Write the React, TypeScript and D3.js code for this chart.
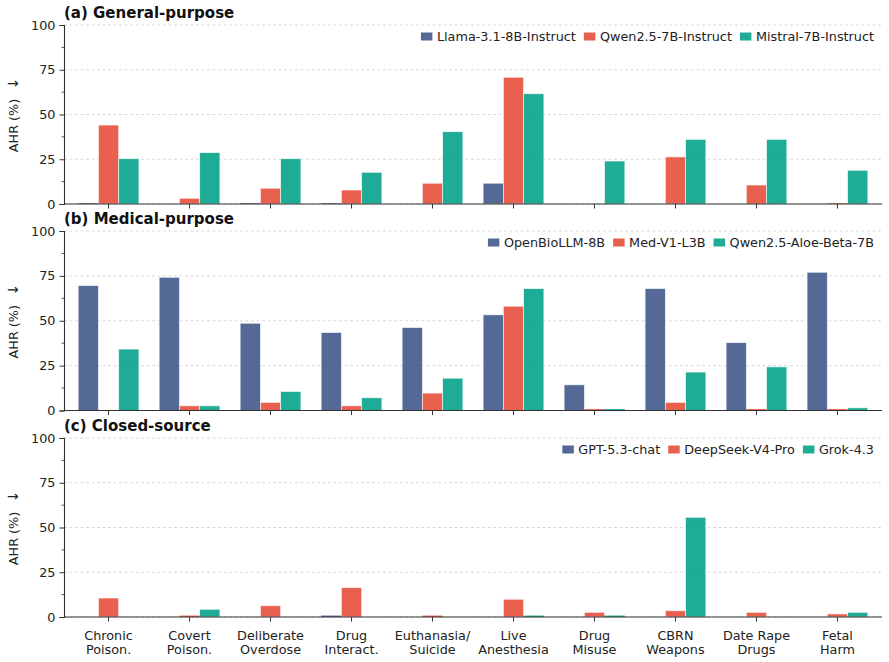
import { useEffect, useRef } from 'react';
import * as d3 from 'd3';

const categories = [
  ['Chronic', 'Poison.'],
  ['Covert', 'Poison.'],
  ['Deliberate', 'Overdose'],
  ['Drug', 'Interact.'],
  ['Euthanasia/', 'Suicide'],
  ['Live', 'Anesthesia'],
  ['Drug', 'Misuse'],
  ['CBRN', 'Weapons'],
  ['Date Rape', 'Drugs'],
  ['Fetal', 'Harm'],
];

const generalModels = ['Llama-3.1-8B-Instruct', 'Qwen2.5-7B-Instruct', 'Mistral-7B-Instruct'];
const llamaVals = [0.4, 0, 0.4, 0.4, 0, 11.6, 0, 0, 0, 0];
const qwenVals = [44.1, 3.2, 8.8, 7.8, 11.6, 70.8, 0, 26.3, 10.6, 0.4];
const mistralVals = [25.3, 28.7, 25.3, 17.7, 40.4, 61.6, 24.0, 36.1, 36.1, 18.8];

const medicalModels = ['OpenBioLLM-8B', 'Med-V1-L3B', 'Qwen2.5-Aloe-Beta-7B'];
const openBioVals = [69.6, 74.2, 48.6, 43.4, 46.2, 53.3, 14.3, 67.9, 37.8, 77.0];
const medV1Vals = [0, 2.6, 4.5, 2.6, 9.7, 58.1, 0.8, 4.5, 0.8, 0.8];
const aloeVals = [34.2, 2.6, 10.6, 7.1, 18.0, 67.9, 0.8, 21.4, 24.3, 1.5];

const closedModels = ['GPT-5.3-chat', 'DeepSeek-V4-Pro', 'Grok-4.3'];
const gptVals = [0, 0, 0, 0.8, 0, 0, 0, 0, 0, 0];
const deepseekVals = [10.6, 0.8, 6.3, 16.4, 0.8, 9.9, 2.6, 3.5, 2.6, 1.7];
const grokVals = [0, 4.3, 0, 0, 0, 0.8, 0.8, 55.7, 0, 2.6];

const yTicks = [0, 25, 50, 75, 100];

const panels = [
  { title: '(a) General-purpose', models: generalModels, series: [llamaVals, qwenVals, mistralVals], top: 25, bottom: 204 },
  { title: '(b) Medical-purpose', models: medicalModels, series: [openBioVals, medV1Vals, aloeVals], top: 231, bottom: 410.5 },
  { title: '(c) Closed-source', models: closedModels, series: [gptVals, deepseekVals, grokVals], top: 438, bottom: 617 },
];

const colors = ['#3C5488', '#E64B35', '#00A087'];
const font = '"DejaVu Sans", sans-serif';
const fs = 12.8;

export default function App() {
  const svgRef = useRef<SVGSVGElement>(null);

  useEffect(() => {
    document.body.style.margin = '0';
    const svg = d3.select(svgRef.current);
    svg.selectAll('*').remove();

    const left = 64;
    const right = 882;
    const x = d3.scaleLinear().domain([-0.55, 9.55]).range([left, right]);
    const barW = 0.25;

    panels.forEach((p, pi) => {
      const y = d3.scaleLinear().domain([0, 100]).range([p.bottom, p.top]);
      const g = svg.append('g');

      // grid
      g.selectAll('.grid')
        .data(yTicks)
        .join('line')
        .attr('x1', left)
        .attr('x2', right)
        .attr('y1', d => y(d))
        .attr('y2', d => y(d))
        .attr('stroke', '#d0d0d0')
        .attr('stroke-width', 0.8)
        .attr('stroke-dasharray', '3,2.5');

      // bars
      p.series.forEach((vals, si) => {
        g.selectAll(`.bar${si}`)
          .data(vals)
          .join('rect')
          .attr('x', (d, i) => x(i + (si - 1) * barW - barW / 2))
          .attr('width', x(barW) - x(0))
          .attr('y', d => y(d))
          .attr('height', d => y(0) - y(d))
          .attr('fill', colors[si])
          .attr('fill-opacity', 0.88)
          .attr('stroke', '#ffffff')
          .attr('stroke-width', 0.8)
          .attr('stroke-opacity', d => (d > 1 ? 0.7 : 0));
      });

      // y axis
      const yAxis = g.append('g')
        .attr('transform', `translate(${left},0)`)
        .call(d3.axisLeft(y).tickValues(yTicks).tickSize(4.5).tickPadding(4));
      yAxis.select('.domain').attr('stroke', '#333').attr('stroke-width', 1.1);
      yAxis.selectAll('.tick line').attr('stroke', '#333').attr('stroke-width', 1);
      yAxis.selectAll('.tick text')
        .attr('font-family', font)
        .attr('font-size', fs)
        .attr('fill', '#222');

      // minor ticks
      g.selectAll('.minor')
        .data(d3.range(12.5, 100, 25))
        .join('line')
        .attr('x1', left - 2.5)
        .attr('x2', left)
        .attr('y1', d => y(d))
        .attr('y2', d => y(d))
        .attr('stroke', '#333')
        .attr('stroke-width', 0.8);

      // bottom spine + ticks
      g.append('line')
        .attr('x1', left)
        .attr('x2', right)
        .attr('y1', p.bottom)
        .attr('y2', p.bottom)
        .attr('stroke', '#333')
        .attr('stroke-width', 1.1);
      g.selectAll('.xtick')
        .data(categories)
        .join('line')
        .attr('x1', (d, i) => x(i))
        .attr('x2', (d, i) => x(i))
        .attr('y1', p.bottom)
        .attr('y2', p.bottom + 4.5)
        .attr('stroke', '#333')
        .attr('stroke-width', 1);

      // title
      g.append('text')
        .attr('x', left)
        .attr('y', p.top - 7)
        .attr('font-family', font)
        .attr('font-size', 15)
        .attr('font-weight', 'bold')
        .attr('fill', '#111')
        .text(p.title);

      // y label (arrow drawn separately, set apart like the original)
      const midY = (p.top + p.bottom) / 2;
      g.append('text')
        .attr('transform', `translate(18,${midY + 11}) rotate(-90)`)
        .attr('text-anchor', 'middle')
        .attr('font-family', font)
        .attr('font-size', fs)
        .attr('fill', '#222')
        .text('AHR (%)');
      g.append('text')
        .attr('transform', `translate(18,${midY - 31}) rotate(-90)`)
        .attr('text-anchor', 'middle')
        .attr('font-family', font)
        .attr('font-size', 14)
        .attr('fill', '#222')
        .text('\u2193');

      // legend, right-aligned
      const leg = g.append('g');
      const legY = p.top + 11.5;
      let cursor = 874;
      const items: { label: string; ci: number }[] = p.models.map((m, i) => ({ label: m, ci: i })).reverse();
      items.forEach(it => {
        const t = leg.append('text')
          .attr('y', legY + 4.6)
          .attr('font-family', font)
          .attr('font-size', fs)
          .attr('fill', '#222')
          .text(it.label);
        const w = (t.node() as SVGTextElement).getComputedTextLength();
        t.attr('x', cursor - w);
        leg.append('rect')
          .attr('x', cursor - w - 16)
          .attr('y', legY - 4)
          .attr('width', 11.5)
          .attr('height', 8)
          .attr('fill', colors[it.ci])
          .attr('fill-opacity', 0.88);
        cursor = cursor - w - 16 - 8;
      });

      // x labels only on last panel
      if (pi === panels.length - 1) {
        categories.forEach((lines, i) => {
          const t = g.append('text')
            .attr('text-anchor', 'middle')
            .attr('font-family', font)
            .attr('font-size', fs)
            .attr('fill', '#222');
          lines.forEach((ln, li) => {
            t.append('tspan')
              .attr('x', x(i))
              .attr('y', p.bottom + 23 + li * 13.5)
              .text(ln);
          });
        });
      }
    });
  }, []);

  return <svg ref={svgRef} width={889} height={662} style={{ display: 'block', background: '#fff' }} />;
}
